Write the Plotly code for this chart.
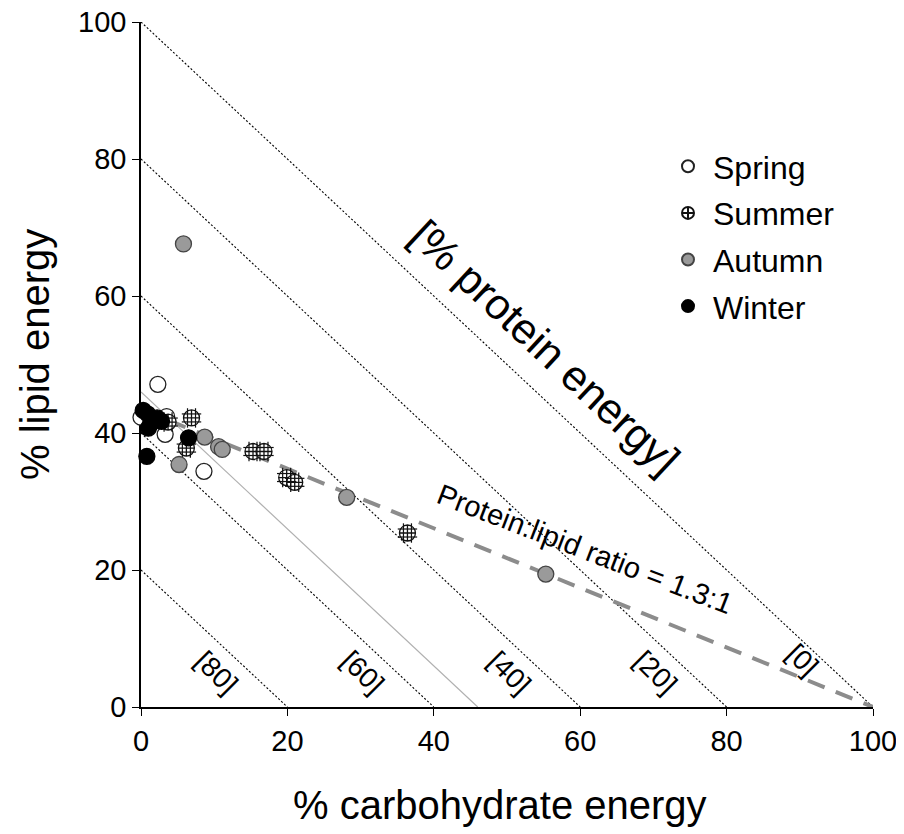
import plotly.graph_objects as go

# ---------------- data ----------------
spring_carb = [2.3, 0.0, 3.5, 3.3, 8.6]
spring_lipid = [47.1, 42.3, 42.4, 39.8, 34.4]

summer_carb = [3.7, 6.9, 6.2, 15.3, 16.8, 19.9, 21.0, 36.4]
summer_lipid = [41.6, 42.2, 37.8, 37.3, 37.3, 33.5, 32.8, 25.4]

autumn_carb = [5.8, 8.7, 10.6, 11.1, 5.2, 28.1, 55.3]
autumn_lipid = [67.6, 39.4, 38.0, 37.6, 35.4, 30.6, 19.4]

winter_carb = [0.3, 0.9, 1.3, 2.2, 2.8, 1.0, 6.5, 0.8]
winter_lipid = [43.3, 42.8, 41.3, 42.2, 41.7, 40.7, 39.3, 36.6]

protein_levels = [0, 20, 40, 60, 80]          # % protein isolines
protein_labels = ["[0]", "[20]", "[40]", "[60]", "[80]"]
ratio_protein_lipid = 1.3                     # protein:lipid = 1.3:1
grey_line_total = 46                          # carb + lipid = 46 reference line
tick_vals = [0, 20, 40, 60, 80, 100]

# ---------------- layout geometry ----------------
OFF = 8                       # default page body margin
W, H = 904 - OFF, 834 - OFF
ML, MR, MT, MB = 141 - OFF, 31, 22 - OFF, 127
PW, PH = W - ML - MR, H - MT - MB
px_x = PW / 100.0   # pixels per x unit
px_y = PH / 100.0   # pixels per y unit
Y0 = 707            # page pixel of y = 0

FONT = "Liberation Sans, Arial, sans-serif"

fig = go.Figure()

# protein isolines (dotted)
for p in protein_levels:
    fig.add_trace(go.Scatter(x=[0, 100 - p], y=[100 - p, 0], mode="lines",
                             line=dict(color="black", width=1.1, dash="2px,2px"),
                             showlegend=False, hoverinfo="skip"))

# grey solid reference line
fig.add_trace(go.Scatter(x=[0, grey_line_total], y=[grey_line_total, 0], mode="lines",
                         line=dict(color="#b0b0b0", width=1.2),
                         showlegend=False, hoverinfo="skip"))

# protein:lipid ratio line: lipid = (100 - carb) / (1 + ratio)
rx = [0, 100]
ry = [(100 - c) / (1 + ratio_protein_lipid) for c in rx]
fig.add_trace(go.Scatter(x=rx, y=ry, mode="lines",
                         line=dict(color="#8c8c8c", width=4, dash="18px,12px"),
                         showlegend=False, hoverinfo="skip"))

MS = 16
# Spring
fig.add_trace(go.Scatter(x=spring_carb, y=spring_lipid, mode="markers", name="Spring",
                         legendgroup="sp", cliponaxis=False,
                         marker=dict(symbol="circle", size=MS, color="white",
                                     line=dict(color="#222", width=1.3))))
# Summer (hatched)
fig.add_trace(go.Scatter(x=summer_carb, y=summer_lipid, mode="markers", name="Summer",
                         legendgroup="su", cliponaxis=False,
                         marker=dict(symbol="circle-cross", size=MS, color="white",
                                     line=dict(color="#111", width=1.3))))
d = 4.0
chord = 2 * ((MS / 2) ** 2 - d ** 2) ** 0.5
for s in (-1, 1):
    fig.add_trace(go.Scatter(x=[c + s * d / px_x for c in summer_carb], y=summer_lipid,
                             mode="markers", legendgroup="su", showlegend=False,
                             cliponaxis=False, hoverinfo="skip",
                             marker=dict(symbol="line-ns", size=chord,
                                         line=dict(color="#111", width=1.2))))
    fig.add_trace(go.Scatter(x=summer_carb, y=[l + s * d / px_y for l in summer_lipid],
                             mode="markers", legendgroup="su", showlegend=False,
                             cliponaxis=False, hoverinfo="skip",
                             marker=dict(symbol="line-ew", size=chord,
                                         line=dict(color="#111", width=1.2))))
# Autumn
fig.add_trace(go.Scatter(x=autumn_carb, y=autumn_lipid, mode="markers", name="Autumn",
                         legendgroup="au", cliponaxis=False,
                         marker=dict(symbol="circle", size=MS, color="#9a9a9a",
                                     line=dict(color="#444", width=1.3))))
# Winter
fig.add_trace(go.Scatter(x=winter_carb, y=winter_lipid, mode="markers", name="Winter",
                         legendgroup="wi", cliponaxis=False,
                         marker=dict(symbol="circle", size=MS, color="black",
                                     line=dict(color="black", width=1.3))))

ann = []
# isoline labels
for p, lab in zip(protein_levels, protein_labels):
    ann.append(dict(x=100 - p - 9.7, y=5 + (4 - len(lab)) * 1.9, text=lab, showarrow=False,
                    textangle=45, font=dict(family=FONT, size=28, color="black"),
                    xanchor="center", yanchor="middle"))
# big diagonal label
ann.append(dict(x=55.2, y=52.6, text="[% protein energy]", showarrow=False, textangle=43,
                font=dict(family=FONT, size=43, color="black"),
                xanchor="center", yanchor="middle"))
# ratio label
ann.append(dict(x=60.6, y=23.0, text="Protein:lipid ratio = 1.3:1", showarrow=False,
                textangle=21, font=dict(family=FONT, size=29, color="black"),
                xanchor="center", yanchor="middle"))
# axis titles
ann.append(dict(xref="paper", yref="paper", x=(500 - 141) / PW, y=0, yshift=-98,
                text="% carbohydrate energy", showarrow=False,
                font=dict(family=FONT, size=40, color="black"),
                xanchor="center", yanchor="middle"))
ann.append(dict(xref="paper", yref="paper", x=0, y=(Y0 - 355) / PH, xshift=-106,
                text="% lipid energy", showarrow=False, textangle=-90,
                font=dict(family=FONT, size=40, color="black"),
                xanchor="center", yanchor="middle"))

axis_common = dict(range=[0, 100], tickvals=tick_vals, ticks="outside", ticklen=7,
                   tickwidth=1.2, tickcolor="black", showline=True, linecolor="black",
                   linewidth=1.5, showgrid=False, zeroline=False, layer="below traces",
                   ticklabeloverflow="allow",
                   tickfont=dict(family=FONT, size=29, color="black"), fixedrange=True)

fig.update_layout(
    width=W, height=H,
    margin=dict(l=ML, r=MR, t=MT, b=MB, autoexpand=False),
    plot_bgcolor="white", paper_bgcolor="white",
    xaxis=axis_common,
    yaxis=axis_common,
    annotations=ann,
    showlegend=True,
    legend=dict(x=(663 - 141) / PW, y=(Y0 - 139) / PH, xanchor="left", yanchor="top",
                font=dict(family=FONT, size=32, color="black"),
                itemsizing="constant", itemwidth=40, tracegroupgap=2,
                bgcolor="rgba(0,0,0,0)"),
)

fig.write_html("out.html")
